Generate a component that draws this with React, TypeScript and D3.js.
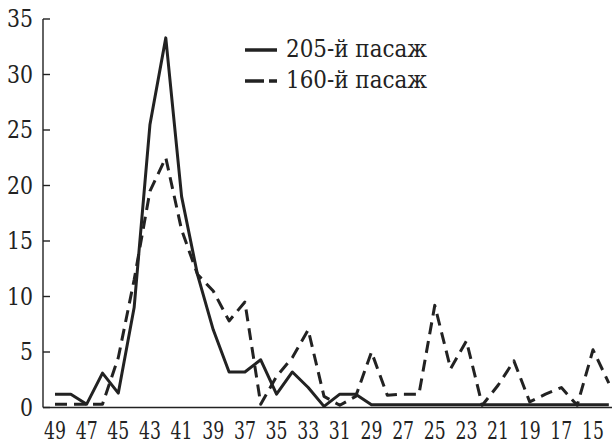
import * as d3 from "d3";

// x positions (descending), one value per integer
const positions = d3.range(49, 13, -1);
const xTickLabels = [49, 47, 45, 43, 41, 39, 37, 35, 33, 31, 29, 27, 25, 23, 21, 19, 17, 15];
const yTicks = [0, 5, 10, 15, 20, 25, 30, 35];

// 205-й пасаж (solid)
const passage205 = [
  1.2, 1.2, 0.3, 3.1, 1.3, 9, 25.5, 33.3, 19, 12, 7, 3.2, 3.2, 4.3, 1.2, 3.2, 1.8, 0.1,
  1.2, 1.2, 0.25, 0.25, 0.25, 0.25, 0.25, 0.25, 0.25, 0.25, 0.25, 0.25, 0.25, 0.25, 0.25,
  0.25, 0.25, 0.25,
];

// 160-й пасаж (dashed)
const passage160 = [
  0.3, 0.3, 0.3, 0.3, 4.5, 11.5, 19.5, 22.5, 16, 12, 10.5, 7.8, 9.5, 0.3, 2.8, 4.5, 7, 1,
  0.2, 1, 5, 1.1, 1.2, 1.2, 9.2, 3.5, 6, 0.2, 2, 4.2, 0.5, 1.2, 1.8, 0.2, 5.2, 2.2,
];

const legendItems = [
  { label: "205-й пасаж", dash: "none" },
  { label: "160-й пасаж", dash: "19 5" },
];

const W = 612;
const H = 444;
const font = "DejaVu Serif";

export default function App() {
  const x = d3.scaleLinear().domain([49.76, 13.8]).range([43, 612]);
  const y = d3.scaleLinear().domain([0, 35]).range([407.5, 19]);

  const line = d3
    .line<number>()
    .x((_, i) => x(positions[i]))
    .y((d) => y(d));

  const textStyle = { fontFamily: font, fill: "#222" };

  return (
    <svg
      width={W}
      height={H}
      style={{ position: "absolute", left: 0, top: 0, background: "#fff", fontFamily: font }}
    >
      {/* axes */}
      <line x1={43} x2={43} y1={y(35)} y2={y(0)} stroke="#222" strokeWidth={1.4} />
      <line x1={43} x2={612} y1={y(0)} y2={y(0)} stroke="#222" strokeWidth={1.4} />
      {yTicks.map((t) => (
        <g key={t}>
          <line x1={43} x2={50} y1={y(t)} y2={y(t)} stroke="#222" strokeWidth={1.4} />
          <text
            x={33}
            y={y(t)}
            dy="0.35em"
            textAnchor="end"
            fontSize={24}
            style={textStyle}
            textLength={t < 10 ? 13 : 26}
            lengthAdjust="spacingAndGlyphs"
          >
            {t}
          </text>
        </g>
      ))}
      {xTickLabels.map((t) => (
        <text
          key={t}
          x={x(t)}
          y={439}
          textAnchor="middle"
          fontSize={24}
          style={textStyle}
          textLength={22}
          lengthAdjust="spacingAndGlyphs"
        >
          {t}
        </text>
      ))}

      {/* series */}
      <path
        d={line(passage160) || ""}
        fill="none"
        stroke="#222"
        strokeWidth={3}
        strokeDasharray="12 7"
        strokeLinejoin="round"
      />
      <path
        d={line(passage205) || ""}
        fill="none"
        stroke="#222"
        strokeWidth={3}
        strokeLinejoin="round"
      />

      {/* legend */}
      {legendItems.map((item, i) => (
        <g key={item.label} transform={`translate(0,${50 + i * 31})`}>
          <line
            x1={245}
            x2={277}
            y1={0}
            y2={0}
            stroke="#222"
            strokeWidth={3.5}
            strokeDasharray={item.dash}
          />
          <text
            x={286}
            y={7}
            fontSize={24}
            style={textStyle}
            textLength={141}
            lengthAdjust="spacingAndGlyphs"
          >
            {item.label}
          </text>
        </g>
      ))}
    </svg>
  );
}
